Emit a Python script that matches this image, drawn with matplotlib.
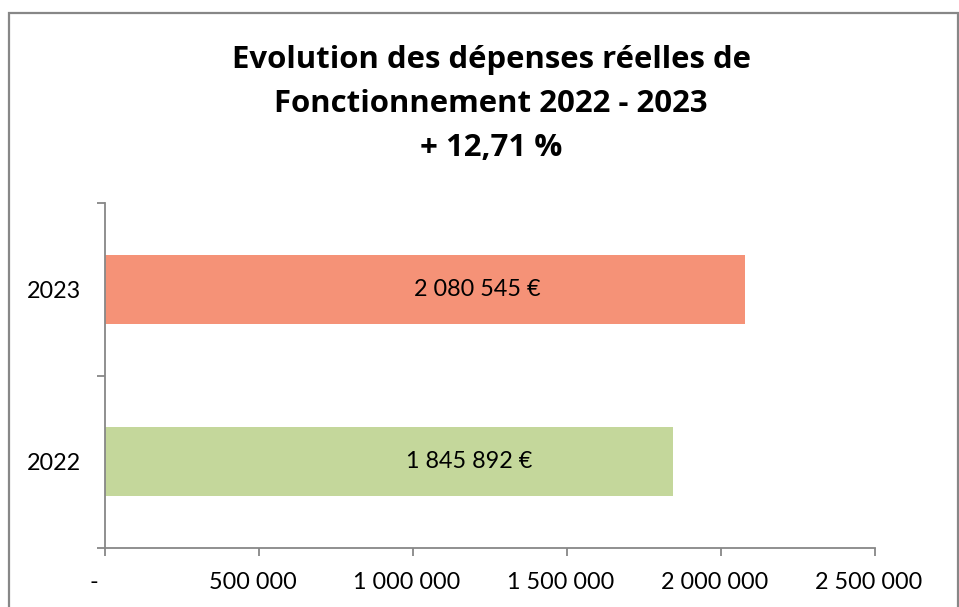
import matplotlib
matplotlib.use('Agg')
import matplotlib.pyplot as plt
from matplotlib.patches import Rectangle
import matplotlib.transforms as mtransforms

years = ['2022', '2023']
values = [1845892, 2080545]
bar_labels = ['1 845 892 €', '2 080 545 €']
bar_colors = ['#C4D79B', '#F59277']
xticks = [0, 500000, 1000000, 1500000, 2000000, 2500000]
xtick_labels = ['-', '500 000', '1 000 000', '1 500 000', '2 000 000', '2 500 000']
title = 'Evolution des dépenses réelles de\nFonctionnement 2022 - 2023\n+ 12,71 %'

plt.rcParams['font.family'] = ['Lato', 'DejaVu Sans']
W, H = 959, 607
fig = plt.figure(figsize=(W / 100, H / 100), dpi=100)
ax = fig.add_axes([104.5 / W, 1 - 548 / H, 770 / W, 345 / H])

pos = list(range(len(years)))
ax.barh(pos, values, height=0.4, color=bar_colors)
ax.set_xlim(0, 2500000)
ax.set_ylim(-0.5, 1.5)

grey = '#878787'
for s in ['top', 'right']:
    ax.spines[s].set_visible(False)
for s in ['left', 'bottom']:
    ax.spines[s].set_color(grey)
    ax.spines[s].set_linewidth(1.3)

fs = 16.8
ax.set_xticks(xticks, xtick_labels, fontsize=fs)
ax.tick_params(axis='x', direction='out', length=6, width=1.3, color=grey, pad=11)
# excel puts the number labels a bit left of the ticks
for i, lab in enumerate(ax.get_xticklabels()):
    dx = -11 if i == 0 else -6
    lab.set_transform(lab.get_transform() + mtransforms.ScaledTranslation(dx / 100, 0, fig.dpi_scale_trans))
ax.set_yticks(pos, years, fontsize=fs)
ax.tick_params(axis='y', which='major', length=0, pad=17)
ax.set_yticks([-0.5, 0.5, 1.5], minor=True)
ax.tick_params(axis='y', which='minor', direction='out', length=5.5, width=1.3, color=grey)

for p, v, lab in zip(pos, values, bar_labels):
    ax.text(980000 + 0.11 * v, p, lab, ha='center', va='center', fontsize=fs)

fig.text(491 / W, 1 - 104 / H, title, ha='center', va='center', fontsize=22.4,
         fontweight='bold', family=['Open Sans', 'DejaVu Sans'], linespacing=1.62)

fig.patches.append(Rectangle((9 / W, -0.05), (958 - 9) / W, 1.05 - 13 / H, transform=fig.transFigure,
                             fill=False, edgecolor=grey, linewidth=1.6, clip_on=False))

fig.savefig('out.png', dpi=100)
